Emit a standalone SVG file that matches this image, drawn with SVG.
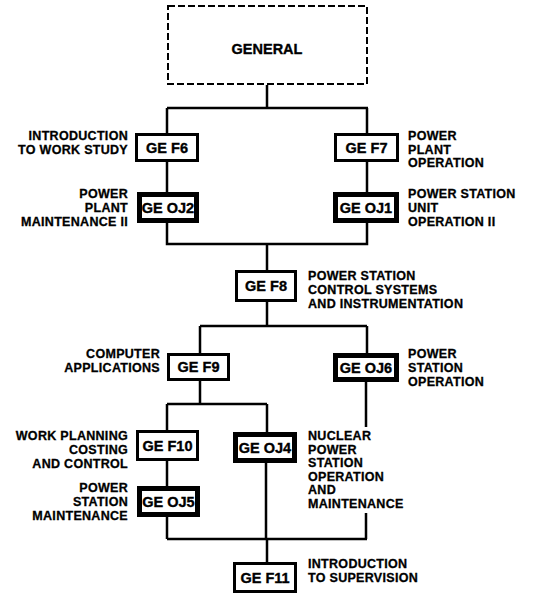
<svg xmlns="http://www.w3.org/2000/svg" width="558" height="594" viewBox="0 0 558 594">
<style>
.bx{fill:#fff;stroke:#000;stroke-width:3}
.bk{fill:#fff;stroke:#000;stroke-width:5}
.bt{font-family:"Liberation Sans",Arial,sans-serif;font-weight:bold;font-size:14.5px;text-anchor:middle;fill:#000;stroke:#000;stroke-width:0.35}
.lb{font-family:"Liberation Sans",Arial,sans-serif;font-weight:bold;font-size:12.5px;letter-spacing:0.3px;fill:#000;stroke:#000;stroke-width:0.3}
.r{text-anchor:end}
.cn{stroke:#000;stroke-width:2.5;fill:none}
</style>
<rect width="558" height="594" fill="#fff"/>
<g id="connectors" class="cn">
<path d="M267,85V108M167,108H368M167,108V133M367,108V133"/>
<path d="M167,162V192M367,162V192"/>
<path d="M167,223V244H367V223M267,244V270"/>
<path d="M267,302V326M200,326H367M200,326V353M367,326V353"/>
<path d="M200,381V404M167,404H267M167,404V430M267,404V432"/>
<path d="M167,461V486M167,517V539M266,463V539"/>
<path d="M366,382V427M366,513V539M167,539H367M267,539V562"/>
</g>
<g id="general">
<rect x="168" y="6" width="199" height="78" fill="#fff" stroke="#000" stroke-width="2" stroke-dasharray="7 3"/>
<text class="bt" x="267" y="54">GENERAL</text>
</g>
<g id="gef6">
<rect class="bx" x="136.5" y="134.5" width="61" height="26"/>
<text class="bt" x="167" y="153">GE F6</text>
<text class="lb r" x="128" y="140">INTRODUCTION</text>
<text class="lb r" x="128" y="154">TO WORK STUDY</text>
</g>
<g id="gef7">
<rect class="bx" x="335.5" y="134.5" width="62" height="26"/>
<text class="bt" x="366.5" y="153">GE F7</text>
<text class="lb" x="408" y="140">POWER</text>
<text class="lb" x="408" y="153.5">PLANT</text>
<text class="lb" x="408" y="167">OPERATION</text>
</g>
<g id="geoj2">
<rect class="bk" x="139.5" y="194.5" width="57" height="26"/>
<text class="bt" x="168" y="212.5">GE OJ2</text>
<text class="lb r" x="128" y="198">POWER</text>
<text class="lb r" x="128" y="212">PLANT</text>
<text class="lb r" x="128" y="226">MAINTENANCE II</text>
</g>
<g id="geoj1">
<rect class="bk" x="335.5" y="194.5" width="61" height="26"/>
<text class="bt" x="366" y="212.5">GE OJ1</text>
<text class="lb" x="408" y="198">POWER STATION</text>
<text class="lb" x="408" y="212">UNIT</text>
<text class="lb" x="408" y="226">OPERATION II</text>
</g>
<g id="gef8">
<rect class="bx" x="236.5" y="271.5" width="59" height="29"/>
<text class="bt" x="266" y="291">GE F8</text>
<text class="lb" x="308" y="280">POWER STATION</text>
<text class="lb" x="308" y="294">CONTROL SYSTEMS</text>
<text class="lb" x="308" y="308">AND INSTRUMENTATION</text>
</g>
<g id="gef9">
<rect class="bx" x="168.5" y="354.5" width="60" height="25"/>
<text class="bt" x="198.5" y="372">GE F9</text>
<text class="lb r" x="160" y="358">COMPUTER</text>
<text class="lb r" x="160" y="372">APPLICATIONS</text>
</g>
<g id="geoj6">
<rect class="bk" x="335.5" y="355.5" width="61" height="24"/>
<text class="bt" x="366" y="372.5">GE OJ6</text>
<text class="lb" x="408" y="358">POWER</text>
<text class="lb" x="408" y="372">STATION</text>
<text class="lb" x="408" y="386">OPERATION</text>
</g>
<g id="gef10">
<rect class="bx" x="137.5" y="431.5" width="60" height="28"/>
<text class="bt" x="167.5" y="450.5">GE F10</text>
<text class="lb r" x="128" y="440">WORK PLANNING</text>
<text class="lb r" x="128" y="454">COSTING</text>
<text class="lb r" x="128" y="468">AND CONTROL</text>
</g>
<g id="geoj4">
<rect class="bk" x="235.5" y="434.5" width="59" height="26"/>
<text class="bt" x="265" y="452.5">GE OJ4</text>
<text class="lb" x="308" y="440">NUCLEAR</text>
<text class="lb" x="308" y="453.5">POWER</text>
<text class="lb" x="308" y="467">STATION</text>
<text class="lb" x="308" y="480.5">OPERATION</text>
<text class="lb" x="308" y="494">AND</text>
<text class="lb" x="308" y="507.5">MAINTENANCE</text>
</g>
<g id="geoj5">
<rect class="bk" x="139.5" y="488.5" width="58" height="26"/>
<text class="bt" x="168.5" y="506.5">GE OJ5</text>
<text class="lb r" x="128" y="492">POWER</text>
<text class="lb r" x="128" y="506">STATION</text>
<text class="lb r" x="128" y="520">MAINTENANCE</text>
</g>
<g id="gef11">
<rect class="bx" x="234.5" y="563.5" width="61" height="28"/>
<text class="bt" x="265" y="582.5">GE F11</text>
<text class="lb" x="308" y="568">INTRODUCTION</text>
<text class="lb" x="308" y="582">TO SUPERVISION</text>
</g>
</svg>
